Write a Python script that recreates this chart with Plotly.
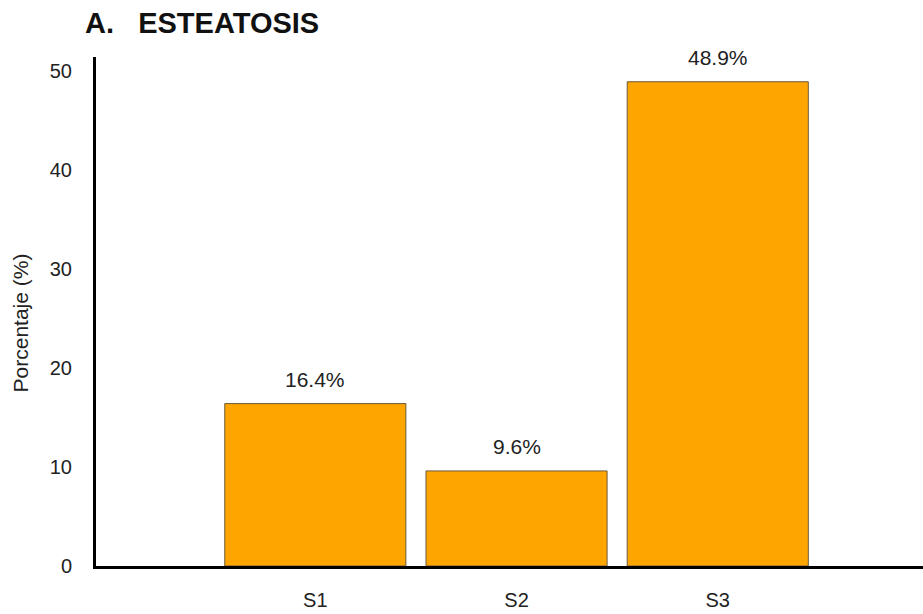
import plotly.graph_objects as go

categories = ["S1", "S2", "S3"]
values = [16.4, 9.6, 48.9]
labels = ["16.4%", "9.6%", "48.9%"]
y_ticks = [0, 10, 20, 30, 40, 50]

FONT = "Liberation Sans, Arial"

fig = go.Figure()
fig.add_trace(go.Bar(
    x=categories, y=values,
    marker=dict(color="#FFA500", line=dict(color="#6b5a3a", width=1)),
    width=0.9,
    hoverinfo="skip",
))

for c, v, t in zip(categories, values, labels):
    fig.add_annotation(x=c, y=v, text=t, showarrow=False, yshift=24,
                       yanchor="middle", font=dict(size=21, color="#222222", family=FONT))

fig.add_annotation(xref="paper", yref="paper", x=-0.091, y=0.478,
                   text="Porcentaje (%)", textangle=-90, showarrow=False,
                   xanchor="center", yanchor="middle",
                   font=dict(size=21, color="#222222", family=FONT))

fig.update_layout(
    width=923, height=614,
    margin=dict(l=96, r=0, t=57, b=48),
    paper_bgcolor="white", plot_bgcolor="white",
    showlegend=False,
    title=dict(text="<b>A.\u00a0\u00a0\u00a0ESTEATOSIS</b>", x=85/923, xanchor="left",
               y=1 - 23/614, yanchor="middle",
               font=dict(size=29, color="#111111", family=FONT)),
    font=dict(family=FONT, color="#222222"),
    bargap=0.1,
)
fig.update_xaxes(type="category", range=[-1.09, 3.02], showline=True,
                 linecolor="black", linewidth=3, showgrid=False, ticks="",
                 tickfont=dict(size=20, color="#222222"), ticklabelstandoff=14,
                 zeroline=False)
fig.update_yaxes(range=[0, 51.4], tickvals=y_ticks, showline=True,
                 linecolor="black", linewidth=3, showgrid=False, ticks="",
                 tickfont=dict(size=20, color="#222222"), ticklabelstandoff=17,
                 zeroline=False)

fig.write_html("out.html")
